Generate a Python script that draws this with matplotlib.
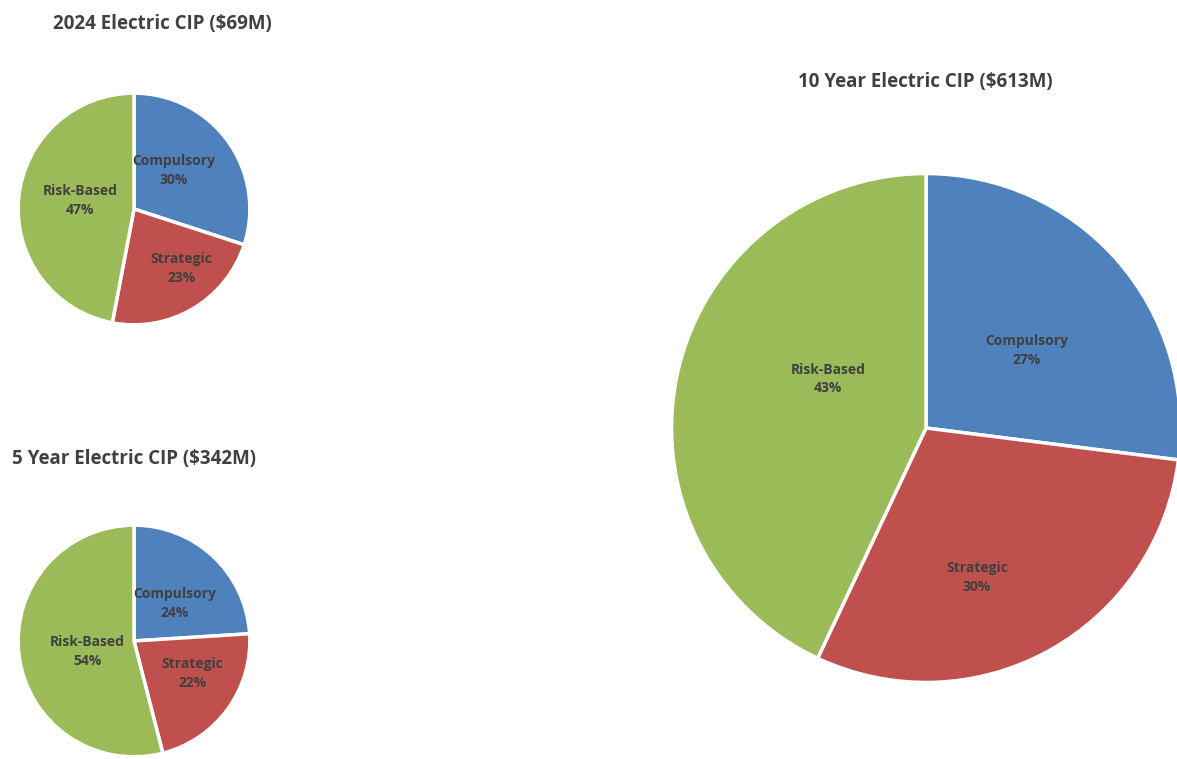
import matplotlib.pyplot as plt
import numpy as np

# slice data (clockwise from 12 o'clock)
categories = ["Compulsory", "Strategic", "Risk-Based"]
share_2024 = [30, 23, 47]
share_5yr = [24, 22, 54]
share_10yr = [27, 30, 43]

titles = ["2024 Electric CIP ($69M)", "5 Year Electric CIP ($342M)", "10 Year Electric CIP ($613M)"]

colors = ["#4F81BD", "#C0504D", "#9BBB59"]
txt_color = "#404040"
font = "Open Sans"

W, H = 1177, 759
fig = plt.figure(figsize=(W / 100, H / 100), dpi=100)

def px_axes(cx, cy, r):
    # pixel centre/radius -> figure-fraction axes
    return fig.add_axes([(cx - r) / W, (H - cy - r) / H, 2 * r / W, 2 * r / H])

def draw_pie(ax, vals, lbl_dist, lbl_shift, fs):
    wedges, _ = ax.pie(vals, colors=colors, startangle=90, counterclock=False,
                       wedgeprops=dict(edgecolor="white", linewidth=2.5))
    for w, name, v, d, s in zip(wedges, categories, vals, lbl_dist, lbl_shift):
        ang = np.deg2rad((w.theta1 + w.theta2) / 2 + s)
        ax.text(d * np.cos(ang), d * np.sin(ang), f"{name}\n{v}%",
                ha="center", va="center", fontsize=fs, fontweight="bold",
                color=txt_color, family=font, linespacing=1.45)
    ax.set_xlim(-1.01, 1.01)
    ax.set_ylim(-1.01, 1.01)
    ax.set_aspect("equal")
    ax.axis("off")

ax1 = px_axes(134, 209, 117)
draw_pie(ax1, share_2024, [0.48, 0.66, 0.47], [8, 8, -4], 10)

ax2 = px_axes(134, 641, 117)
draw_pie(ax2, share_5yr, [0.48, 0.58, 0.41], [-4, 7, 5], 10)

ax3 = px_axes(926, 428, 257)
draw_pie(ax3, share_10yr, [0.5, 0.62, 0.43], [-4, -10, -14], 10)

# titles
fig.text(162 / W, 1 - 24 / H, titles[0], ha="center", va="center", fontsize=13.5,
         fontweight="bold", color=txt_color, family=font)
fig.text(134 / W, 1 - 459 / H, titles[1], ha="center", va="center", fontsize=13.5,
         fontweight="bold", color=txt_color, family=font)
fig.text(925 / W, 1 - 82 / H, titles[2], ha="center", va="center", fontsize=13.5,
         fontweight="bold", color=txt_color, family=font)

fig.savefig("out.png", dpi=100)
